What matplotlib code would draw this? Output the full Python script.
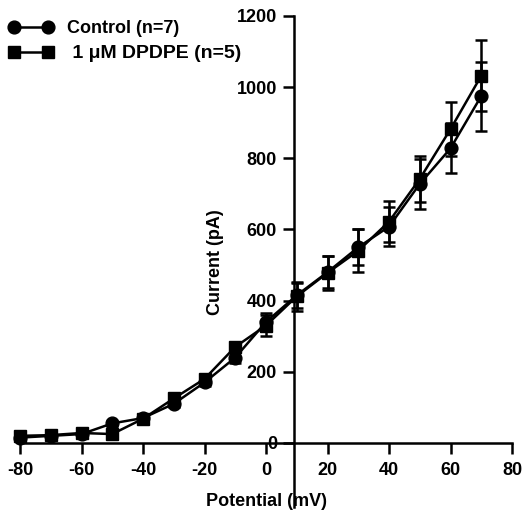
import matplotlib.pyplot as plt
import numpy as np
from matplotlib.lines import Line2D

plt.rcParams['font.family'] = ['Liberation Sans', 'DejaVu Sans']
plt.rcParams['font.weight'] = 'bold'
plt.rcParams['axes.unicode_minus'] = False

# Data
potential = [-80, -70, -60, -50, -40, -30, -20, -10, 0, 10, 20, 30, 40, 50, 60, 70]
control = [15, 20, 25, 55, 70, 110, 170, 240, 340, 415, 480, 550, 608, 728, 828, 975]
control_err = [5, 5, 5, 8, 8, 10, 10, 15, 25, 35, 45, 50, 55, 70, 70, 97]
dpdpe = [20, 22, 28, 25, 68, 125, 180, 270, 330, 412, 478, 540, 622, 742, 882, 1032]
dpdpe_err = [5, 5, 5, 8, 8, 10, 12, 15, 30, 40, 48, 60, 58, 65, 75, 100]

xticks = [-80, -60, -40, -20, 0, 20, 40, 60, 80]
yticks = [0, 200, 400, 600, 800, 1000, 1200]

fig = plt.figure(figsize=(5.26, 5.2), dpi=100)
ax = fig.add_axes([20 / 526, 1 - 507 / 520, 492 / 526, 491 / 520])

ax.errorbar(potential, control, yerr=control_err, color='black', marker='o',
            markersize=9.2, linewidth=1.8, elinewidth=1.8, capsize=4, capthick=1.8,
            clip_on=False, zorder=3)
ax.errorbar(potential, dpdpe, yerr=dpdpe_err, color='black', marker='s',
            markersize=8.5, linewidth=1.8, elinewidth=1.8, capsize=4, capthick=1.8,
            clip_on=False, zorder=3)

ax.set_xlim(-80, 80)
ax.set_ylim(-180, 1200)

# axes crossing inside the plot
ax.spines['top'].set_visible(False)
ax.spines['right'].set_visible(False)
ax.spines['left'].set_position(('data', 9))
ax.spines['bottom'].set_position(('data', 0))
for s in ('left', 'bottom'):
    ax.spines[s].set_linewidth(1.8)

ax.set_xticks(xticks)
ax.set_yticks(yticks)
ax.tick_params(axis='both', direction='out', length=8, width=1.8, labelsize=13)
ax.tick_params(axis='y', pad=4)
ax.tick_params(axis='x', pad=6)

fig.text(215 / 526, 1 - 262 / 520, 'Current (pA)', rotation=90, fontsize=13,
         fontweight='bold', ha='center', va='center')
fig.text(267 / 526, 1 - 502 / 520, 'Potential (mV)', fontsize=13,
         fontweight='bold', ha='center', va='center')

handles = [
    Line2D([], [], color='black', marker='o', markersize=9.2, linewidth=1.8),
    Line2D([], [], color='black', marker='s', markersize=8.5, linewidth=1.8),
]
leg = fig.legend(handles, ['Control (n=7)', ' 1 \u03bcM DPDPE (n=5)'], loc='upper left',
                 bbox_to_anchor=(0.0, 0.979), frameon=False, fontsize=13, numpoints=2,
                 handlelength=2.45, handletextpad=0.77, borderpad=0.3, labelspacing=0.45,
                 borderaxespad=0.2)
leg.get_texts()[1].set_fontsize(14)

fig.savefig('out.png', dpi=100)
